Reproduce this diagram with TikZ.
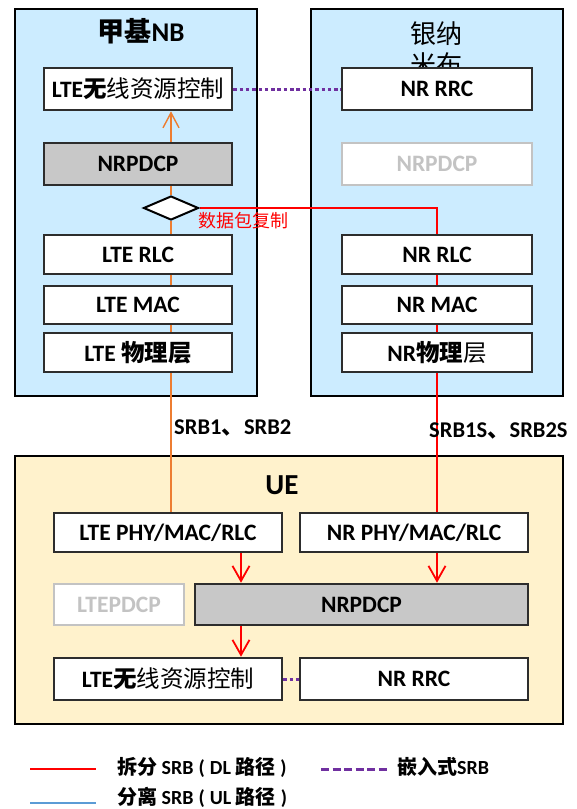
\documentclass[tikz,border=0pt]{standalone}
\usepackage{fontspec}
\setmainfont{Carlito}
\newfontfamily\cjk{Noto Sans CJK SC}
\usetikzlibrary{shapes.geometric,arrows.meta,calc}
\definecolor{enbblue}{RGB}{204,236,255}
\definecolor{uebeige}{RGB}{255,242,204}
\definecolor{pdcpgray}{RGB}{200,200,200}
\definecolor{faded}{RGB}{195,195,195}
\definecolor{srborange}{RGB}{237,125,49}
\definecolor{embpurple}{RGB}{112,48,160}
\definecolor{ulblue}{RGB}{91,155,213}
\definecolor{boxline}{RGB}{45,45,45}
\definecolor{splitred}{RGB}{255,0,0}
\newcommand\hanb[1]{{\cjk\bfseries #1}}
\newcommand\hanr[1]{{\cjk\mdseries #1}}
\newcommand\lpar{\hspace{5pt}(\hspace{5pt}}
\newcommand\rpar{\hspace{5pt})}
\pgfdeclarelayer{back}
\pgfdeclarelayer{mid}
\pgfsetlayers{back,mid,main}

\begin{document}
\begin{tikzpicture}[x=1pt,y=-1pt,
  container/.style={draw=black, line width=2pt, inner sep=0pt},
  layerbox/.style={draw=boxline, line width=2.6pt, fill=white, inner sep=0pt,
    font=\bfseries\fontsize{23.5}{26}\selectfont},
  graybox/.style={layerbox, fill=pdcpgray},
  fadedbox/.style={layerbox, draw=faded, text=faded},
  lcol/.style={minimum width=188pt},
  rcol/.style={minimum width=190pt},
  title/.style={font=\bfseries\fontsize{27}{31}\selectfont},
  srblabel/.style={font=\bfseries\fontsize{22.5}{25}\selectfont, anchor=west, inner sep=0pt},
  legendtext/.style={font=\bfseries\fontsize{20}{23}\selectfont, anchor=west, inner sep=0pt},
  redline/.style={draw=splitred, line width=1.8pt},
  orangeline/.style={draw=srborange, line width=1.4pt},
  embline/.style={draw=embpurple, line width=3pt, dash pattern=on 3.5pt off 2.8pt},
  barb/.style={-{Straight Barb[length=15pt,width=17pt]}},
]
\useasboundingbox (0,0) rectangle (576,809);

% ---------- eNB (LTE) protocol stack ----------
\node[layerbox, lcol, minimum height=42pt] (lrrc) at (138,89)
  {LTE\hanb{无}\hanr{线资源控制}};
\node[graybox, lcol, minimum height=42pt] (lpdcp) at (138,164) {NRPDCP};
\node[layerbox, lcol, minimum height=39pt] (lrlc) at (138,254.5) {LTE RLC};
\node[layerbox, lcol, minimum height=38pt] (lmac) at (138,305) {LTE MAC};
\node[layerbox, lcol, minimum height=39pt] (lphy) at (138,352.5)
  {LTE \hanb{物理层}};

% ---------- gNB (NR) protocol stack ----------
\node[layerbox, rcol, minimum height=42pt] (nrrc) at (437,89) {NR RRC};
\node[fadedbox, rcol, minimum height=42pt] (npdcp) at (437,164) {NRPDCP};
\node[layerbox, rcol, minimum height=39pt] (nrlc) at (437,254.5) {NR RLC};
\node[layerbox, rcol, minimum height=38pt] (nmac) at (437,305) {NR MAC};
\node[layerbox, rcol, minimum height=39pt] (nphy) at (437,352.5)
  {NR\hanb{物理}\hanr{层}};

% packet duplication point
\node[diamond, draw=black, line width=2pt, fill=white, inner sep=0pt,
  minimum width=55pt, minimum height=24pt] (dup) at (171,208) {};
\node[anchor=west, inner sep=0pt, text=splitred,
  font=\cjk\fontsize{18}{20}\selectfont] (duptext) at (198,221) {数据包复制};

% ---------- UE protocol stack ----------
\node[layerbox, minimum width=228pt, minimum height=39pt] (ulphy) at (168,532.5)
  {LTE PHY/MAC/RLC};
\node[layerbox, minimum width=228pt, minimum height=39pt] (unphy) at (414,532.5)
  {NR PHY/MAC/RLC};
\node[fadedbox, minimum width=130pt, minimum height=41pt] (ulpdcp) at (119,604.5)
  {LTEPDCP};
\node[graybox, minimum width=333pt, minimum height=41pt] (unpdcp) at (361.5,604.5)
  {NRPDCP};
\node[layerbox, minimum width=228pt, minimum height=42pt] (ulrrc) at (168,679)
  {LTE\hanb{无}\hanr{线资源控制}};
\node[layerbox, minimum width=228pt, minimum height=42pt] (unrrc) at (414,679)
  {NR RRC};

% bearer labels
\node[srblabel] (srbl) at (174,428) {SRB1\hanb{、}SRB2};
\node[srblabel] (srbn) at (429,431) {SRB1S\hanb{、}SRB2S};

% ---------- node containers and their titles ----------
\begin{pgfonlayer}{back}
  \node[container, fill=enbblue, minimum width=242pt, minimum height=387pt]
    (enb) at (136,202.5) {};
  \node[container, fill=enbblue, minimum width=252pt, minimum height=387pt]
    (gnb) at (437,202.5) {};
  \node[container, fill=uebeige, minimum width=548pt, minimum height=268pt]
    (ue) at (289,590) {};
  \node[title] (enbtitle) at (141,31) {\hanb{甲基}NB};
  \node[align=center, inner sep=0pt, font=\cjk\fontsize{26}{31}\selectfont]
    (gnbtitle) at (436,49) {银纳\\米布};
  \node[title, font=\bfseries\fontsize{29}{32}\selectfont] (uetitle) at (282,485) {UE};
\end{pgfonlayer}

% ---------- bearer paths ----------
\coordinate (ueleft) at (241,0);
\begin{pgfonlayer}{mid}
  % embedded SRB between the two RRC entities
  \draw[embline] (lrrc.east) -- (nrrc.west);
  \draw[embline] (ulrrc.east) -- (unrrc.west);
  % LTE leg
  \draw[orangeline] (dup.south) -- (dup.south |- ulphy.north);
  \draw[orangeline, -{Straight Barb[length=15pt,width=16pt]}]
    (dup.north) -- (dup.north |- lrrc.south);
  % duplicated NR leg
  \draw[redline] (dup.east) -| (nrlc.north |- unphy.north);
  % UE receive side
  \draw[redline, barb] (ulphy.south -| ueleft) -- (unpdcp.north -| ueleft);
  \draw[redline, barb] (unphy.south -| nrlc) -- (unpdcp.north -| nrlc);
  \draw[redline, barb] (unpdcp.south -| ueleft) -- (ulrrc.north -| ueleft);
\end{pgfonlayer}

% ---------- legend ----------
\coordinate (lgr1) at (30,769);  \coordinate (lgr2) at (96,769);
\coordinate (lgb1) at (30,803);  \coordinate (lgb2) at (96,803);
\coordinate (lgp1) at (321,769); \coordinate (lgp2) at (388,769);
\draw[redline] (lgr1) -- (lgr2);
\draw[draw=ulblue, line width=2pt] (lgb1) -- (lgb2);
\draw[draw=embpurple, line width=3pt, dash pattern=on 8pt off 3.5pt] (lgp1) -- (lgp2);
\node[legendtext] (lgdl) at (117,767) {\hanb{拆分} SRB\lpar DL \hanb{路径}\rpar};
\node[legendtext] (lgul) at (117,797.5) {\hanb{分离} SRB\lpar UL \hanb{路径}\rpar};
\node[legendtext] (lgemb) at (397,767) {\hanb{嵌入式}SRB};
\end{tikzpicture}
\end{document}
